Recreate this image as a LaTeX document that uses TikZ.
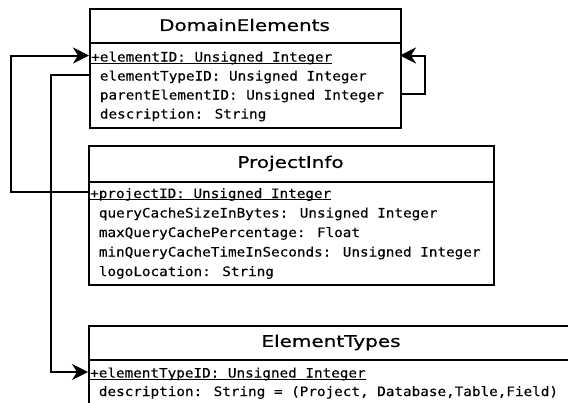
\documentclass[tikz,border=0pt]{standalone}
\usepackage{fontspec}
\newfontfamily\hdrfont[FakeStretch=1.25,FakeBold=0.6]{DejaVu Sans}
\newfontfamily\attrfont[FakeStretch=1.1,FakeBold=0.3]{DejaVu Sans Mono}
\usetikzlibrary{arrows.meta}
\tikzset{
  box/.style={draw=black, line width=2pt, fill=white, anchor=north west, inner sep=0pt},
  divider/.style={line width=2pt},
  title/.style={font=\hdrfont\fontsize{16}{16}\selectfont, inner sep=0pt, anchor=center},
  attr/.style={font=\attrfont\fontsize{13}{13}\selectfont, inner sep=0pt, anchor=base west},
  uline/.style={line width=1pt},
  conn/.style={line width=2pt, -{Stealth[length=16pt,width=16pt,inset=5pt]}},
}
\begin{document}
\begin{tikzpicture}[x=1pt,y=-1pt]
\useasboundingbox (0,0) rectangle (568,402);
\fill[white] (0,0) rectangle (568,402);

% DomainElements
\node[box, minimum width=311pt, minimum height=119pt] (de) at (89,8) {};
\draw[divider] (89,42.5) -- (400,42.5);
\node[title] (detitle) at (244.5,25) {DomainElements};
\node[attr] (de1) at (91,61.5) {+elementID: Unsigned Integer};
\draw[uline] ([yshift=-1.8pt]de1.base west) -- ([yshift=-1.8pt]de1.base east);
\node[attr] (de2) at (99.7,80.5) {elementTypeID: Unsigned Integer};
\node[attr] (de3) at (99.7,99.5) {parentElementID: Unsigned Integer};
\node[attr] (de4) at (99.7,118.5) {description: String};

% ProjectInfo
\node[box, minimum width=405pt, minimum height=139pt] (pi) at (88,145) {};
\draw[divider] (88,182) -- (493,182);
\node[title] (pititle) at (290.5,163.5) {ProjectInfo};
\node[attr] (pi1) at (90,198) {+projectID: Unsigned Integer};
\draw[uline] ([yshift=-1.8pt]pi1.base west) -- ([yshift=-1.8pt]pi1.base east);
\node[attr] (pi2) at (98.7,217.5) {queryCacheSizeInBytes: Unsigned Integer};
\node[attr] (pi3) at (98.7,237) {maxQueryCachePercentage: Float};
\node[attr] (pi4) at (98.7,256.5) {minQueryCacheTimeInSeconds: Unsigned Integer};
\node[attr] (pi5) at (98.7,276) {logoLocation: String};

% ElementTypes
\node[box, minimum width=486pt, minimum height=100pt] (et) at (88,325) {};
\draw[divider] (88,360) -- (574,360);
\node[title] (ettitle) at (331,342.5) {ElementTypes};
\node[attr] (et1) at (90,377.5) {+elementTypeID: Unsigned Integer};
\draw[uline] ([yshift=-1.8pt]et1.base west) -- ([yshift=-1.8pt]et1.base east);
\node[attr] (et2) at (98.7,396) {description: String = (Project, Database,Table,Field)};

% connector ends
\coordinate (de-in) at (89,55.5);
\coordinate (de-out) at (89,75);
\coordinate (de-self-out) at (400,94);
\coordinate (de-self-in) at (400,55.5);
\coordinate (pi-out) at (88,192);
\coordinate (et-in) at (88,372);

\draw[conn] (pi-out) -- ++(-77,0) |- (de-in);
\draw[conn] (de-out) -- ++(-38,0) |- (et-in);
\draw[conn] (de-self-out) -- ++(25,0) |- (de-self-in);
\end{tikzpicture}
\end{document}
